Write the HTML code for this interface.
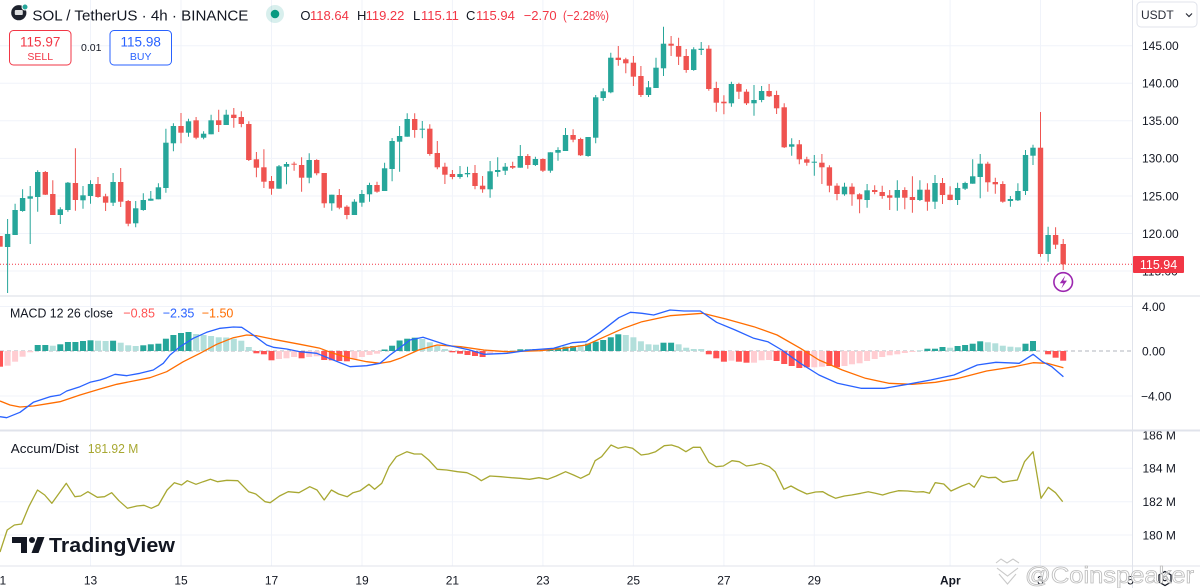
<!DOCTYPE html>
<html><head><meta charset="utf-8"><style>
html,body{margin:0;padding:0;background:#fff;}
svg{display:block;font-family:"Liberation Sans",Arial,sans-serif;}
</style></head><body>
<svg width="1200" height="588" viewBox="0 0 1200 588" xmlns="http://www.w3.org/2000/svg">
<defs>
<clipPath id="cp"><rect x="0" y="0" width="1132" height="566"/></clipPath>
<clipPath id="ad"><rect x="1133" y="431.5" width="67" height="134"/></clipPath>
</defs>
<rect width="1200" height="588" fill="#fff"/>
<!-- grid -->
<g stroke="#f0f3fa" stroke-width="1">
<path d="M90.5 0V566M181 0V566M271.5 0V566M362 0V566M452.4 0V566M542.9 0V566M633.4 0V566M723.9 0V566M814.3 0V566M950.1 0V566M1040.5 0V566"/>
<path d="M0 45.7H1132M0 83.3H1132M0 120.8H1132M0 158.4H1132M0 196H1132M0 233.5H1132M0 271H1132"/>
<path d="M0 306.5H1132M0 396H1132"/>
<path d="M0 468.3H1132M0 501.7H1132M0 535H1132"/>
</g>
<!-- separators -->
<g stroke="#e0e3eb">
<path d="M0 296H1200" stroke-width="1.2"/>
<path d="M0 430.5H1200" stroke-width="2"/>
<path d="M0 566H1200" stroke-width="1"/>
<path d="M1132.5 0V588" stroke-width="1"/>
</g>
<g clip-path="url(#cp)">
<!-- price line -->
<path d="M0 264.3H1132" stroke="#f23645" stroke-width="1" stroke-dasharray="1 2"/>
<!-- candles green -->
<path stroke="#26a69a" stroke-width="1" fill="none" d="M7.6 219V293M15.1 203.7V235M22.6 189.3V211.7M30.2 186V244M37.7 170.3V211.7M60.3 207.3V224M67.9 182V211.7M83 186V208.7M90.5 180.3V203.7M113.1 173V206M135.7 201V227.3M143.3 193.3V210.7M150.8 191V200.7M158.4 183.3V199.3M165.9 128.7V192.7M173.4 123.3V151.3M188.5 118.7V136.7M203.6 131.3V139.3M211.1 114.7V134.3M226.2 109.7V125M279 165V188.7M286.5 162V184.3M309.2 153.3V183.3M331.8 194.7V210.7M354.4 199.3V215M361.9 190V206.7M369.5 182.7V201.7M384.6 162.7V191M392.1 138V181.3M399.6 126V171.7M407.2 113.3V136.7M422.3 121V138.3M460 166V178.7M467.5 166.7V177.3M490.1 161V197.7M497.7 157.3V176.7M505.2 163V175M520.3 145V167.7M535.4 156.7V166M550.4 152.3V172.7M558 147.3V160.7M565.5 128V151M588.1 137V156.7M595.7 95V143.3M603.2 88.3V101M610.8 52.7V93.3M648.5 81V97M656 57.7V88M663.5 26.7V76M693.7 47.3V70.7M701.2 42V55M731.4 81.7V106.7M754 85V115.7M761.6 86V102.3M791.7 138.3V155.7M814.3 155V175.7M844.5 182.7V195.7M867.1 184V207.7M897.3 180.3V210.7M919.9 180.3V201M935 175V209M957.6 182.7V205M965.1 181.7V190M972.7 159.3V183.7M980.2 154V198.3M1010.4 196V206.7M1017.9 183.3V201M1025.5 150V195M1033 144.7V165M1048.1 226.7V261.7"/>
<g fill="#26a69a">
<rect x="4.9" y="234" width="5.4" height="13"/><rect x="12.4" y="210" width="5.4" height="25"/><rect x="19.9" y="198" width="5.4" height="13"/><rect x="27.5" y="196.3" width="5.4" height="2.4"/><rect x="35" y="172" width="5.4" height="25"/><rect x="57.6" y="209.3" width="5.4" height="5.7"/><rect x="65.2" y="182.7" width="5.4" height="27.3"/><rect x="80.3" y="195.3" width="5.4" height="5"/><rect x="87.8" y="184" width="5.4" height="12"/><rect x="110.4" y="182" width="5.4" height="20.7"/><rect x="133" y="208.3" width="5.4" height="15"/><rect x="140.6" y="200" width="5.4" height="10"/><rect x="148.1" y="198.7" width="5.4" height="2"/><rect x="155.7" y="187.3" width="5.4" height="12"/><rect x="163.2" y="142.7" width="5.4" height="45.3"/><rect x="170.7" y="126" width="5.4" height="17.3"/><rect x="185.8" y="121.3" width="5.4" height="11.4"/><rect x="200.9" y="133.7" width="5.4" height="4"/><rect x="208.4" y="120.3" width="5.4" height="14"/><rect x="223.5" y="114.7" width="5.4" height="10.3"/><rect x="276.3" y="166.3" width="5.4" height="22.4"/><rect x="283.8" y="164" width="5.4" height="2.7"/><rect x="306.5" y="160" width="5.4" height="17.7"/><rect x="329.1" y="194.7" width="5.4" height="8.6"/><rect x="351.7" y="201.7" width="5.4" height="13.3"/><rect x="359.2" y="194" width="5.4" height="8.7"/><rect x="366.8" y="185" width="5.4" height="9.3"/><rect x="381.9" y="168.3" width="5.4" height="22.7"/><rect x="389.4" y="141" width="5.4" height="28"/><rect x="396.9" y="136" width="5.4" height="5.7"/><rect x="404.5" y="119" width="5.4" height="17.7"/><rect x="419.6" y="128.7" width="5.4" height="1"/><rect x="457.3" y="174" width="5.4" height="3"/><rect x="464.8" y="173" width="5.4" height="1.3"/><rect x="487.4" y="171.3" width="5.4" height="18"/><rect x="495" y="170" width="5.4" height="2"/><rect x="502.5" y="166.7" width="5.4" height="4"/><rect x="517.6" y="156" width="5.4" height="11.7"/><rect x="532.7" y="159" width="5.4" height="6"/><rect x="547.7" y="152.3" width="5.4" height="18.4"/><rect x="555.3" y="150" width="5.4" height="2.7"/><rect x="562.8" y="135" width="5.4" height="16"/><rect x="585.4" y="137" width="5.4" height="19"/><rect x="593" y="97.3" width="5.4" height="40.4"/><rect x="600.5" y="91.3" width="5.4" height="6.7"/><rect x="608.1" y="57.7" width="5.4" height="34.6"/><rect x="645.8" y="87.3" width="5.4" height="7.7"/><rect x="653.3" y="67.7" width="5.4" height="20.3"/><rect x="660.8" y="43.7" width="5.4" height="24.6"/><rect x="691" y="49.3" width="5.4" height="20.7"/><rect x="698.5" y="48.7" width="5.4" height="1.3"/><rect x="728.7" y="84" width="5.4" height="19.3"/><rect x="751.3" y="100" width="5.4" height="3.3"/><rect x="758.9" y="91" width="5.4" height="9"/><rect x="789" y="144.3" width="5.4" height="2.4"/><rect x="811.6" y="161.7" width="5.4" height="1"/><rect x="841.8" y="186.7" width="5.4" height="7.6"/><rect x="864.4" y="190.3" width="5.4" height="9.7"/><rect x="894.6" y="190" width="5.4" height="7.7"/><rect x="917.2" y="189.7" width="5.4" height="10.3"/><rect x="932.3" y="183" width="5.4" height="18.7"/><rect x="954.9" y="188" width="5.4" height="12"/><rect x="962.4" y="183" width="5.4" height="5.7"/><rect x="970" y="176.3" width="5.4" height="7.4"/><rect x="977.5" y="163.7" width="5.4" height="13.3"/><rect x="1007.7" y="199" width="5.4" height="2"/><rect x="1015.2" y="191" width="5.4" height="9.3"/><rect x="1022.8" y="155" width="5.4" height="36"/><rect x="1030.3" y="147.7" width="5.4" height="8"/><rect x="1045.4" y="235" width="5.4" height="19"/>
</g>
<!-- candles red -->
<path stroke="#ef5350" stroke-width="1" fill="none" d="M45.3 171V195M52.8 180.3V215M75.4 148.3V210.7M98 177V197.7M105.6 193.7V211M120.7 168V207M128.2 200V226.3M181 113V143.3M196.1 117V139.3M218.7 109.7V132M233.8 108V127.7M241.3 111.3V127.3M248.8 121.3V161M256.4 152V177.3M263.9 149.3V188M271.5 176V194.7M294.1 161.7V170.7M301.6 157.3V191.7M316.7 159.3V175.3M324.2 173V207.7M339.3 189V209.3M346.9 205.3V219.3M377 181.7V192.7M414.7 113.3V137.7M429.8 124.3V155.7M437.3 141V169.3M444.9 162.7V184M452.4 170V179.3M475 165V189.3M482.6 176V192.7M512.7 161.7V169M527.8 154V168.7M542.9 158.3V172M573.1 129.3V142.3M580.6 137.7V156M618.3 46V65.7M625.8 57.7V73.3M633.4 56V86M640.9 66V97M671.1 36V56M678.6 37.7V65M686.2 49V72.7M708.8 45.3V90.7M716.3 81.7V111.7M723.9 95.3V114.3M738.9 82.7V99M746.5 89.3V105M769.1 84V97M776.6 90.7V114M784.2 103.3V148M799.3 140V164.3M806.8 156.7V165.7M821.9 154V184M829.4 165.3V192.3M837 183.3V200.3M852 183.3V205.7M859.6 193.3V213.3M874.7 185.3V194.3M882.2 185.7V198.7M889.7 190V210M904.8 187.3V209.3M912.4 176.3V212.7M927.4 183.3V210.7M942.5 178V204M950.1 186.3V200.3M987.8 161.7V191.7M995.3 177.7V193.7M1002.8 181.3V202.7M1040.5 112V256.7M1055.6 227.3V249M1063.2 239V270"/>
<g fill="#ef5350">
<rect x="-2.7" y="236" width="5.4" height="10.7"/><rect x="42.6" y="172" width="5.4" height="22.7"/><rect x="50.1" y="194" width="5.4" height="21"/><rect x="72.7" y="183" width="5.4" height="17"/><rect x="95.3" y="184" width="5.4" height="13"/><rect x="102.9" y="196.3" width="5.4" height="6.4"/><rect x="118" y="182" width="5.4" height="19.7"/><rect x="125.5" y="201" width="5.4" height="22.7"/><rect x="178.3" y="126" width="5.4" height="6.7"/><rect x="193.4" y="120.3" width="5.4" height="17.4"/><rect x="216" y="120.3" width="5.4" height="4.7"/><rect x="231.1" y="114.7" width="5.4" height="3.3"/><rect x="238.6" y="117" width="5.4" height="7"/><rect x="246.1" y="124" width="5.4" height="36"/><rect x="253.7" y="159.3" width="5.4" height="8.4"/><rect x="261.2" y="167.3" width="5.4" height="14.4"/><rect x="268.8" y="181" width="5.4" height="7.7"/><rect x="291.4" y="163.7" width="5.4" height="1"/><rect x="298.9" y="165" width="5.4" height="12.7"/><rect x="314" y="160" width="5.4" height="13.3"/><rect x="321.5" y="173" width="5.4" height="30.3"/><rect x="336.6" y="195" width="5.4" height="12.7"/><rect x="344.2" y="206.7" width="5.4" height="8.3"/><rect x="374.3" y="185" width="5.4" height="6.7"/><rect x="412" y="119" width="5.4" height="11"/><rect x="427.1" y="128.7" width="5.4" height="25.3"/><rect x="434.6" y="153" width="5.4" height="14.3"/><rect x="442.2" y="166.7" width="5.4" height="8"/><rect x="449.7" y="174" width="5.4" height="3"/><rect x="472.3" y="173" width="5.4" height="13"/><rect x="479.9" y="185.7" width="5.4" height="3.6"/><rect x="510" y="166" width="5.4" height="1.7"/><rect x="525.1" y="156" width="5.4" height="9"/><rect x="540.2" y="159" width="5.4" height="11.7"/><rect x="570.4" y="135" width="5.4" height="4.7"/><rect x="577.9" y="139" width="5.4" height="16.3"/><rect x="615.6" y="57.7" width="5.4" height="2.3"/><rect x="623.1" y="59.3" width="5.4" height="4"/><rect x="630.7" y="62.7" width="5.4" height="14"/><rect x="638.2" y="76" width="5.4" height="19"/><rect x="668.4" y="43.7" width="5.4" height="2"/><rect x="675.9" y="46" width="5.4" height="10.7"/><rect x="683.5" y="56" width="5.4" height="14"/><rect x="706.1" y="48.7" width="5.4" height="40.3"/><rect x="713.6" y="88" width="5.4" height="14.7"/><rect x="721.2" y="101.7" width="5.4" height="1.6"/><rect x="736.2" y="84" width="5.4" height="7.7"/><rect x="743.8" y="91.7" width="5.4" height="11.6"/><rect x="766.4" y="91" width="5.4" height="5.3"/><rect x="773.9" y="95" width="5.4" height="13.3"/><rect x="781.5" y="107.3" width="5.4" height="40"/><rect x="796.6" y="144.3" width="5.4" height="15"/><rect x="804.1" y="159.3" width="5.4" height="3.4"/><rect x="819.2" y="162.7" width="5.4" height="4.6"/><rect x="826.7" y="167.3" width="5.4" height="18.4"/><rect x="834.3" y="185.7" width="5.4" height="8.3"/><rect x="849.3" y="186.7" width="5.4" height="7.6"/><rect x="856.9" y="194.3" width="5.4" height="5"/><rect x="872" y="190" width="5.4" height="2"/><rect x="879.5" y="192" width="5.4" height="4"/><rect x="887" y="195.3" width="5.4" height="2.4"/><rect x="902.1" y="190" width="5.4" height="7.7"/><rect x="909.7" y="197" width="5.4" height="3"/><rect x="924.7" y="189.7" width="5.4" height="12"/><rect x="939.8" y="183" width="5.4" height="12"/><rect x="947.4" y="194.7" width="5.4" height="5.3"/><rect x="985.1" y="163.7" width="5.4" height="18.6"/><rect x="992.6" y="182" width="5.4" height="2.3"/><rect x="1000.1" y="184" width="5.4" height="17.7"/><rect x="1037.8" y="147.7" width="5.4" height="106.3"/><rect x="1052.9" y="235" width="5.4" height="9.7"/><rect x="1060.5" y="244" width="5.4" height="20.3"/>
</g>
<!-- MACD zero line -->
<path d="M0 351H1132" stroke="#b2b5be" stroke-width="1" stroke-dasharray="4 3"/>
<!-- histogram: dark teal -->
<g fill="#26a69a">
<rect x="34.7" y="345" width="6" height="6"/><rect x="42.3" y="345" width="6" height="6"/><rect x="57.3" y="344.3" width="6" height="6.7"/><rect x="64.9" y="342" width="6" height="9"/><rect x="72.4" y="342" width="6" height="9"/><rect x="80" y="341" width="6" height="10"/><rect x="87.5" y="340.3" width="6" height="10.7"/><rect x="110.1" y="340.7" width="6" height="10.3"/><rect x="140.3" y="345.3" width="6" height="5.7"/><rect x="147.8" y="344.3" width="6" height="6.7"/><rect x="155.4" y="343.7" width="6" height="7.3"/><rect x="162.9" y="338.7" width="6" height="12.3"/><rect x="170.4" y="335" width="6" height="16"/><rect x="178" y="333" width="6" height="18"/><rect x="185.5" y="332" width="6" height="19"/><rect x="381.6" y="349.5" width="6" height="1.5"/><rect x="389.1" y="345.7" width="6" height="5.3"/><rect x="396.6" y="340.5" width="6" height="10.5"/><rect x="404.2" y="338.7" width="6" height="12.3"/><rect x="411.7" y="337.7" width="6" height="13.3"/><rect x="517.3" y="349.3" width="6" height="1.7"/><rect x="524.8" y="349.3" width="6" height="1.7"/><rect x="532.4" y="349" width="6" height="2"/><rect x="547.4" y="348.3" width="6" height="2.7"/><rect x="555" y="347.7" width="6" height="3.3"/><rect x="562.5" y="346.7" width="6" height="4.3"/><rect x="570.1" y="346" width="6" height="5"/><rect x="585.1" y="343.7" width="6" height="7.3"/><rect x="592.7" y="341.7" width="6" height="9.3"/><rect x="600.2" y="340" width="6" height="11"/><rect x="607.8" y="337.3" width="6" height="13.7"/><rect x="615.3" y="334.3" width="6" height="16.7"/><rect x="660.5" y="342.7" width="6" height="8.3"/><rect x="668.1" y="342.7" width="6" height="8.3"/><rect x="924.4" y="348.7" width="6" height="2.3"/><rect x="932" y="348.7" width="6" height="2.3"/><rect x="939.5" y="347" width="6" height="4"/><rect x="954.6" y="346" width="6" height="5"/><rect x="962.1" y="345" width="6" height="6"/><rect x="969.7" y="343.7" width="6" height="7.3"/><rect x="977.2" y="341.3" width="6" height="9.7"/><rect x="1022.5" y="343.7" width="6" height="7.3"/><rect x="1030" y="341" width="6" height="10"/>
</g>
<!-- histogram: light teal -->
<g fill="#b2dfdb">
<rect x="49.8" y="345.7" width="6" height="5.3"/><rect x="95" y="340.7" width="6" height="10.3"/><rect x="102.6" y="341" width="6" height="10"/><rect x="117.7" y="342.7" width="6" height="8.3"/><rect x="125.2" y="345.3" width="6" height="5.7"/><rect x="132.7" y="346" width="6" height="5"/><rect x="193.1" y="334" width="6" height="17"/><rect x="200.6" y="335" width="6" height="16"/><rect x="208.1" y="336" width="6" height="15"/><rect x="215.7" y="337.3" width="6" height="13.7"/><rect x="223.2" y="337.5" width="6" height="13.5"/><rect x="230.8" y="338.7" width="6" height="12.3"/><rect x="238.3" y="340.7" width="6" height="10.3"/><rect x="245.8" y="347" width="6" height="4"/><rect x="419.3" y="339" width="6" height="12"/><rect x="426.8" y="342.3" width="6" height="8.7"/><rect x="434.3" y="346" width="6" height="5"/><rect x="441.9" y="349" width="6" height="2"/><rect x="509.7" y="350.3" width="6" height="0.7"/><rect x="539.9" y="349.3" width="6" height="1.7"/><rect x="577.6" y="345" width="6" height="6"/><rect x="622.8" y="335" width="6" height="16"/><rect x="630.4" y="337.3" width="6" height="13.7"/><rect x="637.9" y="341.3" width="6" height="9.7"/><rect x="645.5" y="344.3" width="6" height="6.7"/><rect x="653" y="344.7" width="6" height="6.3"/><rect x="675.6" y="344.3" width="6" height="6.7"/><rect x="683.2" y="347.7" width="6" height="3.3"/><rect x="690.7" y="349" width="6" height="2"/><rect x="698.2" y="349" width="6" height="2"/><rect x="916.9" y="350.3" width="6" height="0.7"/><rect x="947.1" y="347.7" width="6" height="3.3"/><rect x="984.8" y="342.3" width="6" height="8.7"/><rect x="992.3" y="343.3" width="6" height="7.7"/><rect x="999.8" y="345.7" width="6" height="5.3"/><rect x="1007.4" y="346.7" width="6" height="4.3"/><rect x="1014.9" y="347.3" width="6" height="3.7"/>
</g>
<!-- histogram: red -->
<g fill="#ff5252">
<rect x="-3" y="351" width="6" height="15.7"/><rect x="253.4" y="351" width="6" height="2.3"/><rect x="260.9" y="351" width="6" height="3.3"/><rect x="268.5" y="351" width="6" height="9.3"/><rect x="298.6" y="351" width="6" height="7.3"/><rect x="321.2" y="351" width="6" height="9"/><rect x="328.8" y="351" width="6" height="9.3"/><rect x="336.3" y="351" width="6" height="10"/><rect x="343.9" y="351" width="6" height="10.3"/><rect x="449.4" y="351" width="6" height="1.3"/><rect x="457" y="351" width="6" height="2.7"/><rect x="464.5" y="351" width="6" height="4"/><rect x="472" y="351" width="6" height="5"/><rect x="479.6" y="351" width="6" height="6"/><rect x="705.8" y="351" width="6" height="3.3"/><rect x="713.3" y="351" width="6" height="7.3"/><rect x="720.9" y="351" width="6" height="10.7"/><rect x="735.9" y="351" width="6" height="10.7"/><rect x="743.5" y="351" width="6" height="11.7"/><rect x="773.6" y="351" width="6" height="10"/><rect x="781.2" y="351" width="6" height="13"/><rect x="788.7" y="351" width="6" height="15"/><rect x="796.3" y="351" width="6" height="17"/><rect x="803.8" y="351" width="6" height="16.3"/><rect x="826.4" y="351" width="6" height="15"/><rect x="834" y="351" width="6" height="16.3"/><rect x="1045.1" y="351" width="6" height="3.3"/><rect x="1052.6" y="351" width="6" height="6.7"/><rect x="1060.2" y="351" width="6" height="9.7"/>
</g>
<!-- histogram: pink -->
<g fill="#ffcdd2">
<rect x="4.6" y="351" width="6" height="14.7"/><rect x="12.1" y="351" width="6" height="10.7"/><rect x="19.6" y="351" width="6" height="5.7"/><rect x="27.2" y="351" width="6" height="1.3"/><rect x="276" y="351" width="6" height="8"/><rect x="283.5" y="351" width="6" height="7.3"/><rect x="291.1" y="351" width="6" height="6"/><rect x="306.2" y="351" width="6" height="6"/><rect x="313.7" y="351" width="6" height="5.3"/><rect x="351.4" y="351" width="6" height="8"/><rect x="358.9" y="351" width="6" height="6"/><rect x="366.5" y="351" width="6" height="4"/><rect x="374" y="351" width="6" height="2.7"/><rect x="487.1" y="351" width="6" height="3.3"/><rect x="494.7" y="351" width="6" height="1.3"/><rect x="502.2" y="351" width="6" height="0.7"/><rect x="728.4" y="351" width="6" height="9.7"/><rect x="751" y="351" width="6" height="11.7"/><rect x="758.6" y="351" width="6" height="9.3"/><rect x="766.1" y="351" width="6" height="9"/><rect x="811.3" y="351" width="6" height="16.3"/><rect x="818.9" y="351" width="6" height="15.7"/><rect x="841.5" y="351" width="6" height="15"/><rect x="849" y="351" width="6" height="13.3"/><rect x="856.6" y="351" width="6" height="12.3"/><rect x="864.1" y="351" width="6" height="10"/><rect x="871.7" y="351" width="6" height="8"/><rect x="879.2" y="351" width="6" height="6"/><rect x="886.7" y="351" width="6" height="4.3"/><rect x="894.3" y="351" width="6" height="3.3"/><rect x="901.8" y="351" width="6" height="2"/><rect x="909.4" y="351" width="6" height="1"/>
</g>
<!-- MACD lines -->
<path fill="none" stroke="#ff6d00" stroke-width="1.3" stroke-linejoin="round" d="M0 401L10 405L20 407L33.3 406L50 403.3L60 401.7L80 395L100 389L116.7 384.3L133.3 381L150 377.7L166.7 371.7L183.3 361.7L200 353.3L216.7 344.3L233.3 337.7L246.7 335L256.7 335.7L273.3 339.3L300 344.3L320 348.3L333.3 353.3L350 358.3L366.7 361.7L380 363.3L390 361.7L400 358.3L418.6 350L437.2 345L460.5 346.7L483.8 350L507 351.7L539.7 350.7L563 348.3L586.2 345L604.8 336.7L623.5 328.3L642 321.7L670 315.7L702.6 313.3L725.9 319L753.8 326.7L777.1 335L800.4 348.3L819 360L842.3 370L865.5 378.3L888.8 383.3L912.1 384.3L935.4 382.3L958.7 378.3L986.6 371L1014.5 366.7L1033.2 362.7L1047.1 363.3L1063.4 367.7"/>
<path fill="none" stroke="#2962ff" stroke-width="1.3" stroke-linejoin="round" d="M0 416.7L6.7 417.7L20 412.3L33.3 402.3L50 396.7L60 395L66.7 391L80 386.7L90 382.3L100 380L106.7 377.7L115 374.3L126.7 375.7L140 373.3L153.3 370L163.3 363.3L170 355L180 346.7L193.3 338.3L206.7 332.3L220 328.3L233.3 327L241.7 327.3L253.3 335L266.7 345L273.3 347.3L286.7 349L300 351.7L316.7 353.3L333.3 360L350 366.7L366.7 365.7L380 363.3L390 355L400 347.7L410 340L423 337.3L446.6 345L469.8 350L483.8 354.3L507 353.3L530 350L553.6 348.3L572.3 342.7L586 341.7L600 332.3L618.8 317.7L630.4 312.3L642 313.3L653.7 315L670 310L684 311L700.3 311L716.6 322.3L735.2 330L753.8 338.3L767.8 341.7L781.8 350L800.4 363.3L819 375L837.6 383.3L860.9 388.3L884.2 388.3L907.4 384.3L930.7 380L954 375L977.3 365L995.9 362.3L1019.2 363.3L1033.1 354.3L1042.5 361.7L1051.8 366.7L1063.4 376.7"/>
<!-- Accum/Dist -->
<path fill="none" stroke="#a8a832" stroke-width="1.3" stroke-linejoin="round" d="M0 552L7.2 530L14.4 525L21.6 524L28.8 506.7L37.5 490L44.7 495L51.9 503.3L59.1 493.3L66.3 483.3L74.9 496.7L80.7 496L87.9 491.7L97.3 497.3L104.5 496.7L111.7 492.7L118.9 500.7L127.5 508.3L136.9 506L144.1 505.3L151.3 508.3L158.5 505L167.1 490L174.4 482.7L181.6 485L187.3 480.7L196 484.3L203.2 481.7L210.4 479.3L217.6 481.7L226.9 480.3L237.8 480.7L248.6 491.7L255.8 494L265.1 501.7L270.2 502.7L279.5 496L288.2 491.7L299 492.7L309.8 486.7L317 490L324.2 500L331.4 490L338.6 494L347.3 496.7L353 492.7L360.2 490.7L368.9 484.3L374.6 489.3L381.8 483.3L389 466.7L396.3 456.7L407 451.7L414.3 454L421.5 454L428.7 460L437.3 469.3L446.7 470L457.5 471.7L466.9 472.7L475.5 476.7L481.3 480.7L489.9 476L500.7 476.7L511.5 477.7L520.2 478.3L529.5 479.3L538.9 477.7L547.6 479.3L556.2 476L565.6 471.7L573.5 475L580.7 478.3L589.3 474L595.1 460.7L601.6 456.7L611 445L618.2 448.3L625.4 446.7L632.6 448.3L641.2 455L648.4 454L655.6 451.7L664.3 445.7L671.5 445L678.7 447.3L685.9 451.7L693.1 447.3L700.3 447.3L708.9 462.3L716.1 466.7L723.3 466L732 460.7L739.2 461.7L746.4 466L753.6 465L760.8 463.3L769.5 466.7L775.2 471.7L783.9 489.3L791 486L798.3 490L806.9 494L815.6 492L822.8 491.7L828.5 495L835.7 498.3L844.4 496L851.6 495L860.9 493.3L868.2 491.7L875.4 493.3L882.6 495L889.8 492.7L898.4 490.7L907.8 491L916.4 492L923.6 491.7L929.4 493.3L935.2 482.7L943.8 484L951 491L961.8 486L969 483.3L974.1 487.3L981.3 475.7L988.5 477.7L995.7 477.3L1002.9 482.3L1010.1 481L1017.3 480L1024.5 461.7L1033.1 451.7L1041 498.3L1048.3 487.3L1055.5 492.7L1062.7 501.7"/>
</g>
<!-- lightning marker -->
<circle cx="1063.2" cy="282" r="9.3" fill="#fff" stroke="#9c27b0" stroke-width="1.6"/>
<path d="M1065.3 275.5L1059.8 283.2H1063.4L1061.3 288.6L1067 280.6H1063.4Z" fill="#9c27b0"/>
<!-- header -->
<circle cx="18.8" cy="12.7" r="7.6" fill="#1e222d"/>
<rect x="14.8" y="10" width="8" height="5" rx="1" fill="#fff" opacity="0.85"/>
<circle cx="25" cy="7" r="3" fill="#26a69a" stroke="#fff" stroke-width="1"/>
<text x="32.4" y="20.7" font-size="15" fill="#131722" textLength="216" lengthAdjust="spacingAndGlyphs">SOL / TetherUS · 4h · BINANCE</text>
<circle cx="275" cy="14" r="9" fill="#26a69a" opacity="0.18"/>
<circle cx="275" cy="14" r="4.3" fill="#089981"/>
<g font-size="13">
<text x="300.4" y="20" fill="#131722">O</text><text x="310" y="20" fill="#f23645">118.64</text>
<text x="357" y="20" fill="#131722">H</text><text x="365.6" y="20" fill="#f23645">119.22</text>
<text x="413" y="20" fill="#131722">L</text><text x="421" y="20" fill="#f23645">115.11</text>
<text x="466" y="20" fill="#131722">C</text><text x="476" y="20" fill="#f23645">115.94</text>
<text x="523.7" y="20" fill="#f23645">−2.70</text>
<text x="563" y="20" fill="#f23645" textLength="46" lengthAdjust="spacingAndGlyphs">(−2.28%)</text>
</g>
<rect x="9.5" y="30.5" width="61.5" height="34.5" rx="4" fill="#fff" stroke="#f23645" stroke-width="1"/>
<text x="40.2" y="46.5" font-size="13.5" fill="#f23645" text-anchor="middle">115.97</text>
<text x="40.2" y="60" font-size="10.5" fill="#f23645" text-anchor="middle">SELL</text>
<text x="81" y="51" font-size="10.5" fill="#131722">0.01</text>
<rect x="110" y="30.5" width="61.5" height="34.5" rx="4" fill="#fff" stroke="#2962ff" stroke-width="1"/>
<text x="140.7" y="46.5" font-size="13.5" fill="#2962ff" text-anchor="middle">115.98</text>
<text x="140.7" y="60" font-size="10.5" fill="#2962ff" text-anchor="middle">BUY</text>
<!-- MACD legend -->
<text x="10" y="317.5" font-size="13" fill="#131722" textLength="103" lengthAdjust="spacingAndGlyphs">MACD 12 26 close</text>
<text x="123.3" y="317.5" font-size="13" fill="#ff5252" textLength="31.7" lengthAdjust="spacingAndGlyphs">−0.85</text>
<text x="162.7" y="317.5" font-size="13" fill="#2962ff" textLength="31.7" lengthAdjust="spacingAndGlyphs">−2.35</text>
<text x="201.7" y="317.5" font-size="13" fill="#ff6d00" textLength="31.7" lengthAdjust="spacingAndGlyphs">−1.50</text>
<!-- AD legend -->
<text x="10.8" y="453" font-size="13" fill="#131722" textLength="68" lengthAdjust="spacingAndGlyphs">Accum/Dist</text>
<text x="87.9" y="453" font-size="13" fill="#a8a832" textLength="50.4" lengthAdjust="spacingAndGlyphs">181.92 M</text>
<!-- TradingView logo -->
<g fill="#131722">
<path d="M12 537H27V553H21V543H12Z"/>
<circle cx="32" cy="540" r="3"/>
<path d="M37.5 537H44.5L38.5 553H31.5Z"/>
<text x="49" y="552" font-size="20" font-weight="bold" textLength="126" lengthAdjust="spacingAndGlyphs">TradingView</text>
</g>
<!-- price axis -->
<rect x="1137" y="2" width="60" height="25" rx="4" fill="#fff" stroke="#e0e3eb"/>
<text x="1141" y="19" font-size="12" fill="#2a2e39">USDT</text>
<path d="M1186 13.5L1189 16.5L1192 13.5" fill="none" stroke="#2a2e39" stroke-width="1.2"/>
<g font-size="12" fill="#131722">
<text x="1142" y="50">145.00</text>
<text x="1142" y="87.6">140.00</text>
<text x="1142" y="125.1">135.00</text>
<text x="1142" y="162.7">130.00</text>
<text x="1142" y="200.3">125.00</text>
<text x="1142" y="237.8">120.00</text>
<text x="1142" y="275.3">115.00</text>
<text x="1142" y="310.8">4.00</text>
<text x="1142" y="355.3">0.00</text>
<text x="1141" y="400.3">−4.00</text>
<g clip-path="url(#ad)">
<text x="1142.5" y="439.3">186 M</text>
<text x="1142.5" y="472.6">184 M</text>
<text x="1142.5" y="506">182 M</text>
<text x="1142.5" y="539.3">180 M</text>
</g>
</g>
<rect x="1133" y="256" width="51" height="17" rx="1" fill="#f23645"/>
<text x="1158.5" y="268.8" font-size="12.5" fill="#fff" text-anchor="middle">115.94</text>
<!-- time axis -->
<g font-size="12" fill="#131722" text-anchor="middle">
<text x="0" y="584.3">11</text>
<text x="90.5" y="584.3">13</text>
<text x="181" y="584.3">15</text>
<text x="271.5" y="584.3">17</text>
<text x="362" y="584.3">19</text>
<text x="452.4" y="584.3">21</text>
<text x="542.9" y="584.3">23</text>
<text x="633.4" y="584.3">25</text>
<text x="723.9" y="584.3">27</text>
<text x="814.3" y="584.3">29</text>
<text x="950.3" y="584.3" font-weight="bold">Apr</text>
<text x="1040.5" y="584.3">3</text>
<text x="1130.5" y="584.3">5</text>
</g>
<!-- gear -->
<path d="M1165 571.5L1171 575V582L1165 585.5L1159 582V575Z" fill="none" stroke="#131722" stroke-width="1.3"/>
<circle cx="1165" cy="578.5" r="2.2" fill="none" stroke="#131722" stroke-width="1.2"/>
<!-- watermark -->
<g fill="none" stroke="#c4c4c4" stroke-width="1.1" opacity="0.9">
<path d="M996 563L1001 559L1007 563L1013 559L1019 563"/>
<path d="M997 568L1007.5 576L1018 568"/>
<path d="M999 574L1007.5 584L1016 574"/>
</g>
<text x="1025" y="583" font-size="23" fill="#fff" fill-opacity="0.6" stroke="#bdbdbd" stroke-width="0.8" textLength="169" lengthAdjust="spacingAndGlyphs">@Coinspeaker</text>
</svg>
</body></html>
